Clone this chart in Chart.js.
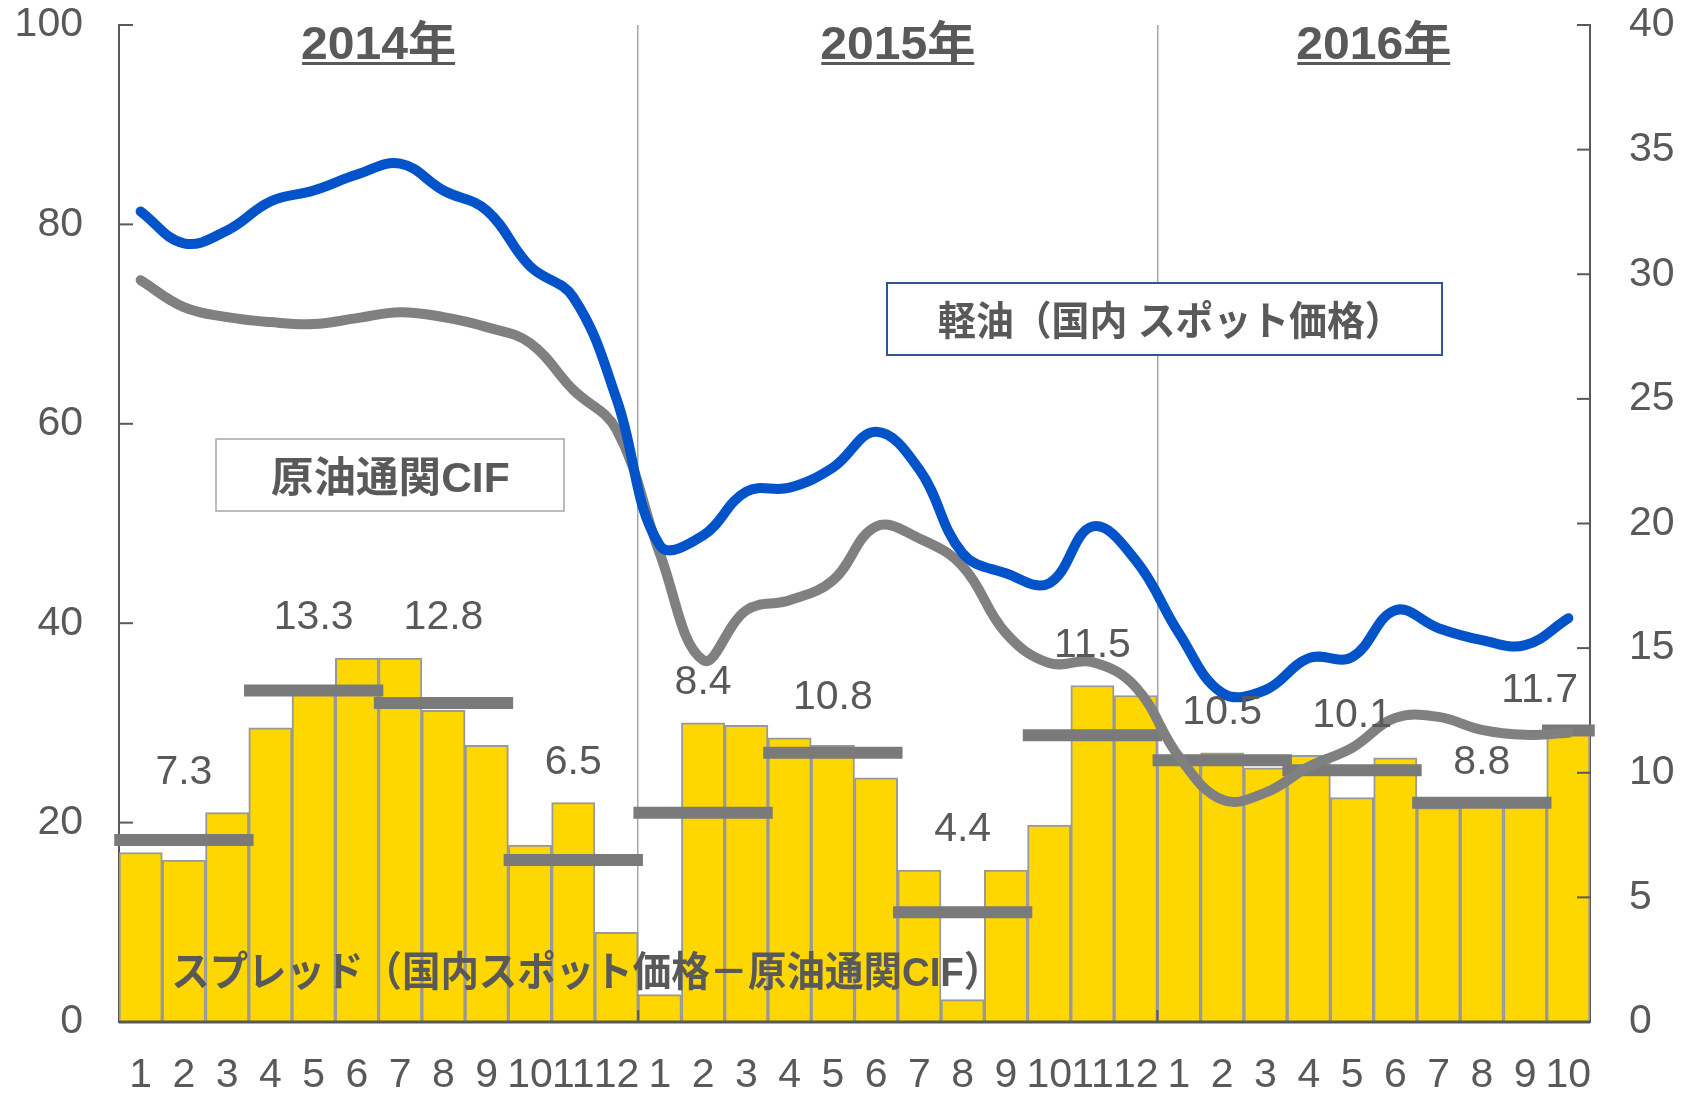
<!DOCTYPE html>
<html>
<head>
<meta charset="utf-8">
<script src="https://cdn.jsdelivr.net/npm/chart.js@4.4.1/dist/chart.umd.min.js"></script>
<style>
html,body{margin:0;padding:0;background:#ffffff;}
canvas{display:block;}
</style>
</head>
<body>
<canvas id="c" width="1696" height="1096"></canvas>
<script>
// ---- data ----
const monthLabels = ['1','2','3','4','5','6','7','8','9','10','11','12',
                     '1','2','3','4','5','6','7','8','9','10','11','12',
                     '1','2','3','4','5','6','7','8','9','10'];
const years = ['2014年','2015年','2016年'];
const yearMonthCount = [12, 12, 10];

// 軽油（国内スポット価格） – left axis
const dieselSpot = [81.3, 78.1, 79.4, 82.3, 83.4, 85.0, 86.1, 83.4, 81.4, 75.8, 72.7, 62.5,
                    47.8, 48.8, 53.2, 53.6, 55.6, 59.2, 55.4, 47.0, 45.0, 44.0, 49.7, 46.3,
                    39.0, 33.0, 33.3, 36.5, 36.6, 41.3, 39.5, 38.3, 37.8, 40.5];
// 原油通関CIF – left axis
const crudeCIF   = [74.4, 71.7, 70.7, 70.2, 70.0, 70.6, 71.2, 70.7, 69.7, 68.1, 63.4, 59.4,
                    47.0, 36.3, 41.3, 42.3, 44.3, 49.7, 48.5, 45.7, 39.0, 36.0, 36.1, 33.6,
                    26.6, 22.3, 23.0, 25.6, 27.5, 30.5, 30.6, 29.3, 28.8, 29.0];
// スプレッド – right axis
const spread     = [6.8, 6.5, 8.4, 11.8, 13.2, 14.6, 14.6, 12.5, 11.1, 7.1, 8.8, 3.6,
                    1.1, 12.0, 11.9, 11.4, 11.1, 9.8, 6.1, 0.9, 6.1, 7.9, 13.5, 13.1,
                    10.5, 10.8, 10.2, 10.7, 9.0, 10.6, 8.6, 8.7, 8.7, 11.6];
// quarterly average spread – right axis
const quarterAvg    = [7.3, 13.3, 12.8, 6.5, 8.4, 10.8, 4.4, 11.5, 10.5, 10.1, 8.8, 11.7];
const quarterMonths = [3, 3, 3, 3, 3, 3, 3, 3, 3, 3, 3, 1];

const leftMax = 100, leftStep = 20;
const rightMax = 40, rightStep = 5;

// ---- derived: quarterly segments on a hidden linear month axis ----
const EXT = 0.11;
const quarterSegments = [];
(function(){
  let s = 0;
  quarterMonths.forEach((n, i) => {
    quarterSegments.push({x: s - EXT, y: quarterAvg[i]});
    quarterSegments.push({x: s + n + EXT, y: quarterAvg[i]});
    quarterSegments.push({x: s + n + EXT, y: null});
    s += n;
  });
})();

const TEXT = '#595959';
const FONT = '"Liberation Sans", Arial, "Noto Sans CJK JP", sans-serif';
Chart.defaults.font.family = FONT;

function fitText(ctx, text, font, color, x0, x1, cy) {
  ctx.save();
  ctx.font = font;
  ctx.fillStyle = color;
  ctx.textAlign = 'left';
  ctx.textBaseline = 'middle';
  const m = ctx.measureText(text);
  const ink = m.actualBoundingBoxLeft + m.actualBoundingBoxRight;
  const s = (x1 - x0) / ink;
  ctx.translate(x0, cy);
  ctx.scale(s, 1);
  ctx.fillText(text, m.actualBoundingBoxLeft, (m.actualBoundingBoxAscent - m.actualBoundingBoxDescent) / 2);
  ctx.restore();
}

const overlay = {
  id: 'overlay',
  afterDatasetsDraw(chart) {
    const {ctx, chartArea: a, scales} = chart;
    const xq = scales.xq, yL = scales.yL, yR = scales.yR;
    ctx.save();
    // baseline
    ctx.strokeStyle = TEXT;
    ctx.lineWidth = 3;
    ctx.beginPath(); ctx.moveTo(a.left, a.bottom); ctx.lineTo(a.right, a.bottom); ctx.stroke();
    // inner tick marks
    ctx.lineWidth = 2;
    yL.ticks.forEach(t => {
      const py = yL.getPixelForValue(t.value);
      ctx.beginPath(); ctx.moveTo(a.left, py); ctx.lineTo(a.left + 14, py); ctx.stroke();
    });
    yR.ticks.forEach(t => {
      const py = yR.getPixelForValue(t.value);
      ctx.beginPath(); ctx.moveTo(a.right, py); ctx.lineTo(a.right - 13, py); ctx.stroke();
    });
    let acc = 0;
    yearMonthCount.forEach((n, i) => {
      const cx = xq.getPixelForValue(acc + n / 2);
      const w = 153;
      fitText(ctx, years[i], 'bold 46px ' + FONT, TEXT, cx - w / 2, cx + w / 2, 42);
      ctx.fillStyle = TEXT;
      ctx.fillRect(cx - w / 2, 62, w, 3);
      acc += n;
      if (i < yearMonthCount.length - 1) {
        const px = xq.getPixelForValue(acc);
        ctx.strokeStyle = TEXT; ctx.lineWidth = 2;
        ctx.beginPath(); ctx.moveTo(px, a.bottom); ctx.lineTo(px, a.bottom - 12); ctx.stroke();
      }
    });
    // quarterly labels
    ctx.font = '41px ' + FONT;
    ctx.fillStyle = TEXT;
    ctx.textAlign = 'center';
    ctx.textBaseline = 'middle';
    let s = 0;
    quarterAvg.forEach((v, i) => {
      const n = quarterMonths[i];
      const top = Math.max(v, ...spread.slice(s, s + n));
      const txt = v.toFixed(1);
      const w = ctx.measureText(txt).width;
      let cx = xq.getPixelForValue(s + n / 2);
      cx = Math.min(cx, a.right - 12 - w / 2);
      ctx.fillText(txt, cx, yR.getPixelForValue(top) - 40);
      s += n;
    });
    // annotation boxes
    ctx.fillStyle = '#ffffff';
    ctx.fillRect(216, 439, 348, 72);
    ctx.strokeStyle = '#a6a6a6'; ctx.lineWidth = 1.5;
    ctx.strokeRect(216, 439, 348, 72);
    fitText(ctx, '原油通関CIF', 'bold 42px ' + FONT, TEXT, 271, 509, 476);

    ctx.fillStyle = '#ffffff';
    ctx.fillRect(887, 283, 555, 72);
    ctx.strokeStyle = '#2f5597'; ctx.lineWidth = 2;
    ctx.strokeRect(887, 283, 555, 72);
    fitText(ctx, '軽油（国内 スポット価格）', 'bold 40px ' + FONT, TEXT, 939, 1378, 320);

    fitText(ctx, 'スプレッド（国内スポット価格－原油通関CIF）', 'bold 41px ' + FONT, TEXT, 174, 977, 970);
    ctx.restore();
  }
};

const noPad = (s) => { s.paddingTop = 0; s.paddingBottom = 0; };

new Chart(document.getElementById('c'), {
  type: 'bar',
  data: {
    labels: monthLabels,
    datasets: [
      {
        type: 'line', label: '軽油（国内 スポット価格）', data: dieselSpot,
        xAxisID: 'x', yAxisID: 'yL',
        borderColor: '#0053c9', borderWidth: 10, pointRadius: 0, tension: 0.4,
        fill: false, borderCapStyle: 'round', borderJoinStyle: 'round', order: 1
      },
      {
        type: 'line', label: '原油通関CIF', data: crudeCIF,
        xAxisID: 'x', yAxisID: 'yL',
        borderColor: '#808080', borderWidth: 10, pointRadius: 0, tension: 0.4,
        fill: false, borderCapStyle: 'round', borderJoinStyle: 'round', order: 2
      },
      {
        type: 'line', label: '四半期平均', data: quarterSegments,
        xAxisID: 'xq', yAxisID: 'yR',
        borderColor: '#7a7a7a', borderWidth: 12, pointRadius: 0, tension: 0,
        spanGaps: false, fill: false, borderCapStyle: 'butt', clip: false, order: 3
      },
      {
        type: 'bar', label: 'スプレッド', data: spread,
        xAxisID: 'x', yAxisID: 'yR',
        backgroundColor: '#FFD700', borderColor: '#999999', borderWidth: 2,
        categoryPercentage: 1.0, barPercentage: 1.0, grouped: false, order: 4
      }
    ]
  },
  options: {
    responsive: false,
    animation: false,
    events: [],
    devicePixelRatio: 1,
    layout: { padding: { top: 25, left: 0, right: 0, bottom: 0 } },
    plugins: { legend: { display: false }, tooltip: { enabled: false }, title: { display: false } },
    scales: {
      x: {
        type: 'category', offset: true, position: 'bottom',
        grid: {
          offset: true, drawTicks: false, lineWidth: 1.5,
          color: (c) => {
            let acc = 0;
            for (let i = 0; i < yearMonthCount.length - 1; i++) { acc += yearMonthCount[i]; if (c.index === acc) return '#a6a6a6'; }
            return 'rgba(0,0,0,0)';
          }
        },
        border: { display: false },
        ticks: { color: TEXT, font: { size: 41 }, padding: 29, maxRotation: 0, minRotation: 0, autoSkip: false },
        afterFit: (s) => { s.height = 74; }
      },
      xq: {
        type: 'linear', min: 0, max: monthLabels.length, position: 'bottom', display: true, offset: false,
        ticks: { display: false }, grid: { display: false, drawTicks: false, offset: false }, border: { display: false },
        afterFit: (s) => { s.height = 0; s.paddingLeft = 0; s.paddingRight = 0; }
      },
      yL: {
        position: 'left', min: 0, max: leftMax,
        ticks: { stepSize: leftStep, color: TEXT, font: { size: 41 }, padding: 36 },
        grid: { display: false, drawTicks: false },
        border: { display: true, color: TEXT, width: 2 },
        afterFit: (s) => { s.width = 119; noPad(s); }
      },
      yR: {
        position: 'right', min: 0, max: rightMax,
        ticks: { stepSize: rightStep, color: TEXT, font: { size: 41 }, padding: 39 },
        grid: { display: false, drawTicks: false },
        border: { display: true, color: TEXT, width: 2 },
        afterFit: (s) => { s.width = 106; noPad(s); }
      }
    }
  },
  plugins: [overlay]
});
</script>
</body>
</html>
